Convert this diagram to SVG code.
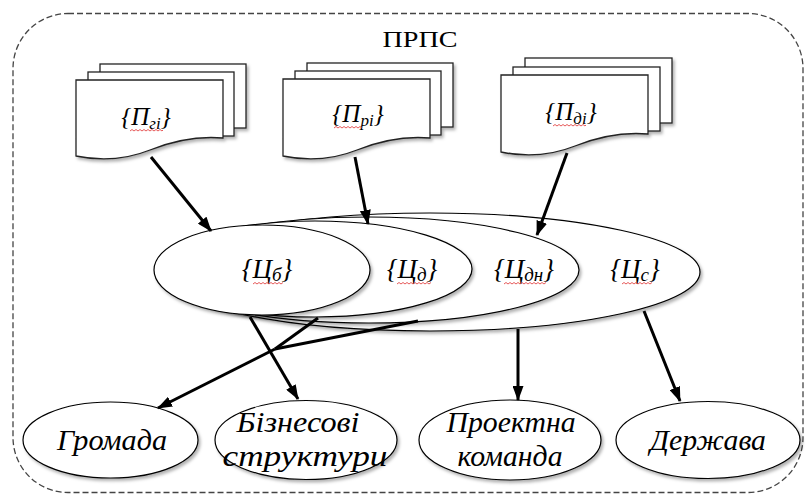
<svg xmlns="http://www.w3.org/2000/svg" width="806" height="495" viewBox="0 0 806 495">
<style>
.sh{fill:#fff;stroke:#000;stroke-width:1.2}
.pg{fill:#fff;stroke:#222;stroke-width:1.3}
.t{font-family:'Liberation Serif','Tinos','Times New Roman','Times','Nimbus Roman','Nimbus Roman No9 L','FreeSerif','DejaVu Serif','Noto Serif',serif;fill:#000}
.it{font-style:italic}
.con{stroke:#000;stroke-width:3;fill:none}
.wv{stroke:#e03030;stroke-width:0.8;fill:none}
</style>
<defs>
<filter id="ds" x="-10%" y="-10%" width="130%" height="140%">
<feDropShadow dx="2" dy="2.5" stdDeviation="1.5" flood-color="#000" flood-opacity="0.3"/>
</filter>
<marker id="ah" markerUnits="userSpaceOnUse" markerWidth="15" markerHeight="11" refX="14" refY="5.5" orient="auto">
<path d="M0,0 L15,5.5 L0,11 Z" fill="#000"/>
</marker>
</defs>
<rect x="13" y="13.5" width="790" height="479" rx="55" ry="55" fill="none" stroke="#444" stroke-width="1.3" stroke-dasharray="6 3"/>
<text class="t" x="420" y="47" font-size="23" text-anchor="middle" textLength="75" lengthAdjust="spacingAndGlyphs">ПРПС</text>

<g id="doc-g" filter="url(#ds)">
<rect class="pg" x="100" y="64" width="146" height="64"/>
<rect class="pg" x="88" y="72" width="146" height="64"/>
<path class="pg" d="M76,80 H223 V138 C200,136 175,140 150,150 C125,160 100,161 76,156 Z"/>
</g>
<g id="doc-g-label">
<text class="t it" x="146" y="125" font-size="25" text-anchor="middle">{П<tspan font-size="17" dy="4">гі</tspan><tspan dy="-4">}</tspan></text>
<path class="wv" d="M130,131 l2,-1.5 l2,1.5 l2,-1.5 l2,1.5 l2,-1.5 l2,1.5 l2,-1.5 l2,1.5 l2,-1.5 l2,1.5 l2,-1.5 l2,1.5 l2,-1.5 l2,1.5 l2,-1.5 l2,1.5 l1,-1"/>
</g>

<g id="doc-r" filter="url(#ds)">
<rect class="pg" x="307" y="63" width="146" height="64"/>
<rect class="pg" x="295" y="71" width="146" height="64"/>
<path class="pg" d="M283,79 H430 V138 C407,136 382,140 357,150 C332,160 307,161 283,156 Z"/>
</g>
<g id="doc-r-label">
<text class="t it" x="358" y="122" font-size="25" text-anchor="middle">{П<tspan font-size="17" dy="4">рі</tspan><tspan dy="-4">}</tspan></text>
<path class="wv" d="M334,128 l2,-1.5 l2,1.5 l2,-1.5 l2,1.5 l2,-1.5 l2,1.5 l2,-1.5 l2,1.5 l2,-1.5 l2,1.5 l2,-1.5 l2,1.5 l2,-1.5 l2,1.5"/>
</g>

<g id="doc-d" filter="url(#ds)">
<rect class="pg" x="525" y="58" width="147" height="65"/>
<rect class="pg" x="513" y="67" width="147" height="64"/>
<path class="pg" d="M501,75 H648 V134 C625,132 600,136 575,146 C550,156 525,157 501,152 Z"/>
</g>
<g id="doc-d-label">
<text class="t it" x="571" y="120" font-size="25" text-anchor="middle">{П<tspan font-size="17" dy="4">ді</tspan><tspan dy="-4">}</tspan></text>
<path class="wv" d="M553,126 l2,-1.5 l2,1.5 l2,-1.5 l2,1.5 l2,-1.5 l2,1.5 l2,-1.5 l2,1.5 l2,-1.5 l2,1.5 l2,-1.5 l2,1.5 l2,-1.5 l2,1.5 l2,-1.5 l2,1.5 l1,-1"/>
</g>

<g id="goal-s" filter="url(#ds)">
<ellipse class="sh" cx="430" cy="272" rx="270" ry="59"/>
</g>
<g id="goal-dn" filter="url(#ds)">
<ellipse class="sh" cx="369" cy="270" rx="210" ry="53"/>
</g>
<g id="goal-d" filter="url(#ds)">
<ellipse class="sh" cx="315" cy="269" rx="157" ry="48"/>
</g>
<g id="goal-b" filter="url(#ds)">
<ellipse class="sh" cx="262" cy="270" rx="108" ry="45"/>
</g>
<g id="goal-labels">
<text class="t it" x="267" y="278" font-size="27" text-anchor="middle">{Ц<tspan font-size="19" dy="3">б</tspan><tspan dy="-3">}</tspan></text>
<text class="t it" x="412" y="278" font-size="27" text-anchor="middle">{Ц<tspan font-size="19" dy="3">д</tspan><tspan dy="-3">}</tspan></text>
<text class="t it" x="524" y="278" font-size="27" text-anchor="middle">{Ц<tspan font-size="19" dy="3">дн</tspan><tspan dy="-3">}</tspan></text>
<text class="t it" x="635" y="278" font-size="27" text-anchor="middle">{Ц<tspan font-size="19" dy="3">с</tspan><tspan dy="-3">}</tspan></text>
<path class="wv" d="M253,284 l2,-1.5 l2,1.5 l2,-1.5 l2,1.5 l2,-1.5 l2,1.5 l2,-1.5 l2,1.5 l2,-1.5 l2,1.5 l2,-1.5 l2,1.5 l2,-1.5 l2,1.5 l2,-1.5"/>
<path class="wv" d="M397,284 l2,-1.5 l2,1.5 l2,-1.5 l2,1.5 l2,-1.5 l2,1.5 l2,-1.5 l2,1.5 l2,-1.5 l2,1.5 l2,-1.5 l2,1.5 l2,-1.5 l2,1.5 l2,-1.5 l2,1.5 l2,-1.5"/>
<path class="wv" d="M504,284 l2,-1.5 l2,1.5 l2,-1.5 l2,1.5 l2,-1.5 l2,1.5 l2,-1.5 l2,1.5 l2,-1.5 l2,1.5 l2,-1.5 l2,1.5 l2,-1.5 l2,1.5 l2,-1.5 l2,1.5 l2,-1.5 l2,1.5 l2,-1.5 l2,1.5 l2,-1.5"/>
<path class="wv" d="M622,284 l2,-1.5 l2,1.5 l2,-1.5 l2,1.5 l2,-1.5 l2,1.5 l2,-1.5 l2,1.5 l2,-1.5 l2,1.5 l2,-1.5 l2,1.5 l2,-1.5 l2,1.5 l2,-1.5"/>
</g>

<g id="hromada" filter="url(#ds)">
<ellipse class="sh" cx="110.5" cy="440" rx="87.5" ry="38"/>
</g>
<g id="biznes" filter="url(#ds)">
<ellipse class="sh" cx="306" cy="440" rx="91" ry="39.5"/>
</g>
<g id="proekt" filter="url(#ds)">
<ellipse class="sh" cx="510" cy="440" rx="91" ry="40"/>
</g>
<g id="derzhava" filter="url(#ds)">
<ellipse class="sh" cx="708" cy="440" rx="92" ry="38.5"/>
</g>
<g id="bottom-labels">
<text class="t it" x="112" y="450" font-size="29" text-anchor="middle" textLength="110" lengthAdjust="spacingAndGlyphs">Громада</text>
<text class="t it" x="298" y="432" font-size="29" text-anchor="middle" textLength="123" lengthAdjust="spacingAndGlyphs">Бізнесові</text>
<text class="t it" x="305" y="466" font-size="29" text-anchor="middle" textLength="165" lengthAdjust="spacingAndGlyphs">структури</text>
<text class="t it" x="511" y="432" font-size="29" text-anchor="middle" textLength="129" lengthAdjust="spacingAndGlyphs">Проектна</text>
<text class="t it" x="510" y="466" font-size="29" text-anchor="middle" textLength="105" lengthAdjust="spacingAndGlyphs">команда</text>
<text class="t it" x="708" y="450" font-size="29" text-anchor="middle" textLength="116" lengthAdjust="spacingAndGlyphs">Держава</text>
</g>

<g id="connectors">
<line class="con" x1="151" y1="157" x2="211" y2="231" marker-end="url(#ah)"/>
<line class="con" x1="355" y1="157" x2="368" y2="224" marker-end="url(#ah)"/>
<line class="con" x1="567" y1="153" x2="537" y2="235" marker-end="url(#ah)"/>
<line class="con" x1="250" y1="317" x2="298" y2="399" marker-end="url(#ah)"/>
<line class="con" x1="318" y1="318" x2="275" y2="349"/>
<line class="con" x1="418" y1="321" x2="275" y2="349"/>
<line class="con" x1="275" y1="349" x2="158" y2="408" marker-end="url(#ah)"/>
<line class="con" x1="518" y1="329" x2="518" y2="400" marker-end="url(#ah)"/>
<line class="con" x1="644" y1="311" x2="680" y2="401" marker-end="url(#ah)"/>
</g>
</svg>
